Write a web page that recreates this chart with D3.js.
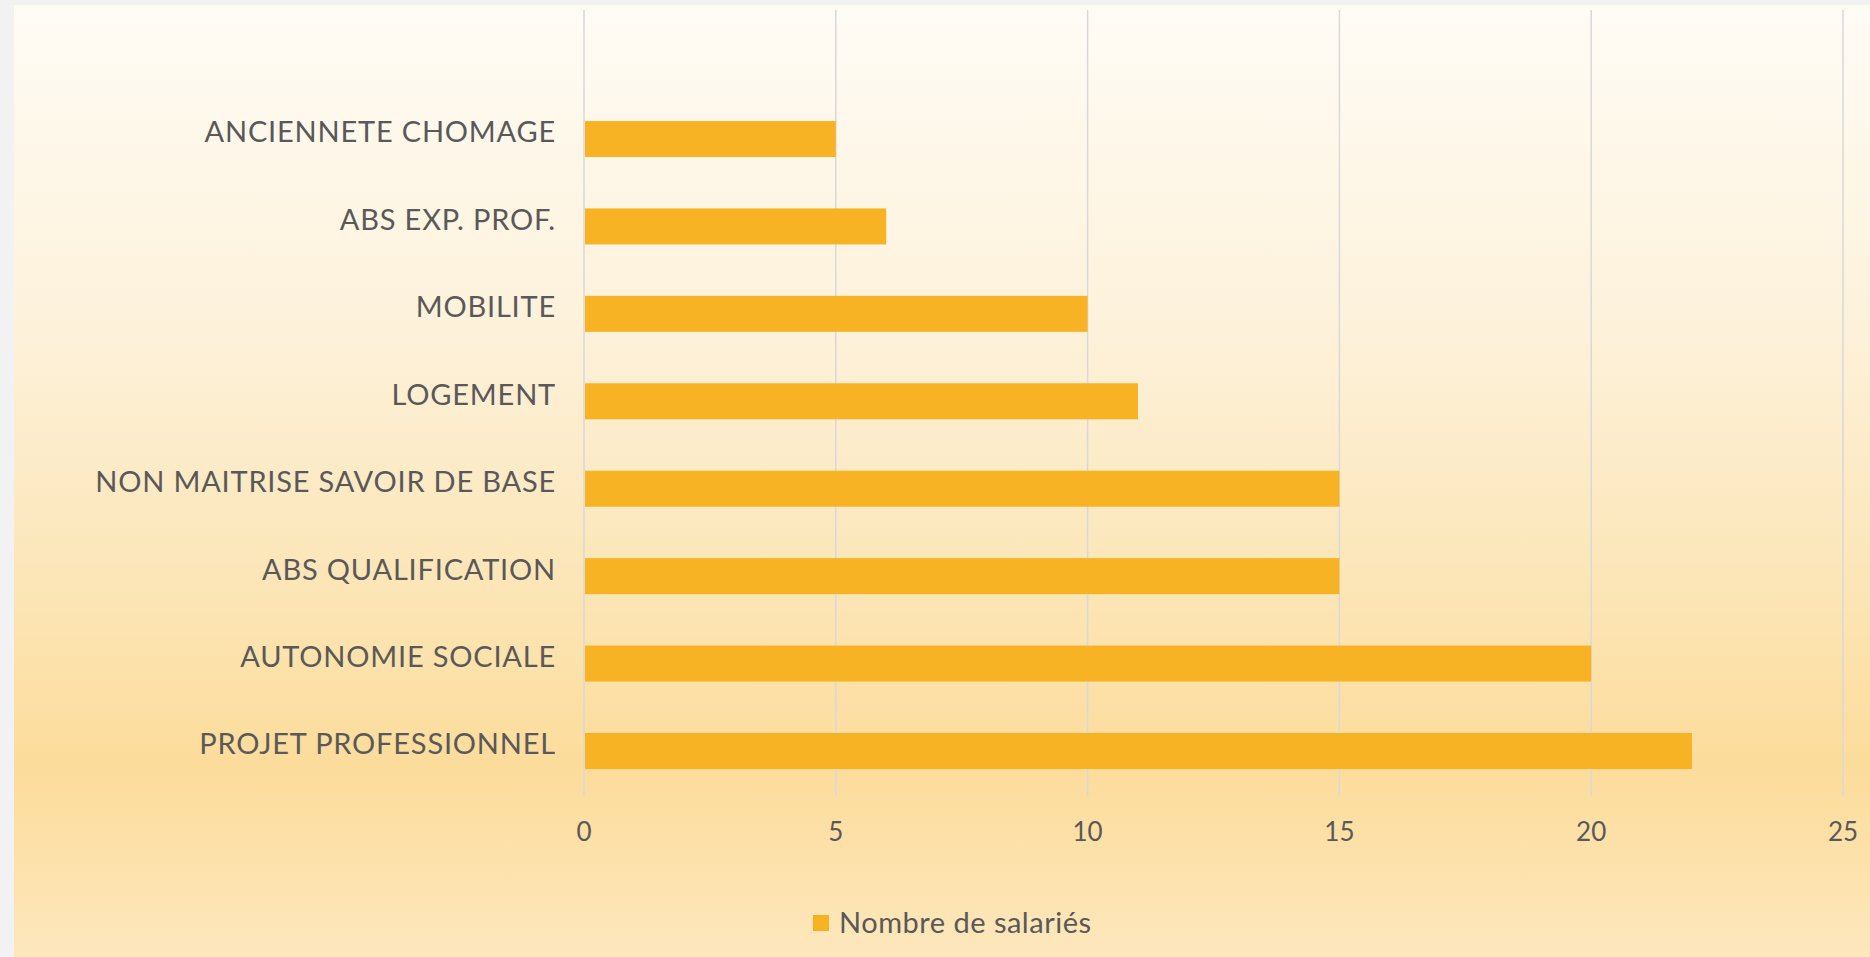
<!DOCTYPE html>
<html>
<head>
<meta charset="utf-8">
<script src="https://cdn.jsdelivr.net/npm/d3@7"></script>
<style>
  html, body { margin: 0; padding: 0; background: #f2f2f2; }
  svg { display: block; }
  text { font-family: "Gill Sans", "Lato", sans-serif; fill: #595959; }
</style>
</head>
<body>
<div id="chart"></div>
<script>
// categories top -> bottom, as in the source sheet
const categories = [
  'ANCIENNETE CHOMAGE',
  'ABS EXP. PROF.',
  'MOBILITE',
  'LOGEMENT',
  'NON MAITRISE SAVOIR DE BASE',
  'ABS QUALIFICATION',
  'AUTONOMIE SOCIALE',
  'PROJET PROFESSIONNEL'
];
const salaries = [5, 6, 10, 11, 15, 15, 20, 22];
const xTicks = [0, 5, 10, 15, 20, 25];
const seriesName = 'Nombre de salariés';

const W = 1870, H = 957;
const BAR = '#f7b324';
const GRID = '#d9d9d9';

const svg = d3.select('#chart').append('svg')
  .attr('width', W)
  .attr('height', H);

// panel background gradient
const grad = svg.append('defs').append('linearGradient')
  .attr('id', 'bg').attr('x1', 0).attr('y1', 0).attr('x2', 0).attr('y2', 1);
[[0, '#fffcf6'], [0.35, '#fdf1d9'], [0.6, '#fce6b8'], [0.8, '#fcdc9b'], [1, '#fde7bc']]
  .forEach(([o, c]) => grad.append('stop').attr('offset', o).attr('stop-color', c));

svg.append('rect')
  .attr('x', 14).attr('y', 5)
  .attr('width', W - 14).attr('height', H - 5)
  .attr('fill', 'url(#bg)');

const plot = { top: 10, bottom: 796 };

const x = d3.scaleLinear().domain([0, 25]).range([584, 1843]);
const y = d3.scaleBand().domain(categories).range([95.3, 794.7])
  .paddingInner(0.588)
  .paddingOuter(0.294);

// vertical gridlines
svg.append('g')
  .selectAll('line')
  .data(xTicks)
  .join('line')
  .attr('x1', d => x(d)).attr('x2', d => x(d))
  .attr('y1', plot.top).attr('y2', plot.bottom)
  .attr('stroke', GRID)
  .attr('stroke-width', 1.5);

// bars
svg.append('g')
  .selectAll('rect')
  .data(salaries)
  .join('rect')
  .attr('x', x(0) + 1)
  .attr('y', (d, i) => y(categories[i]))
  .attr('width', d => x(d) - x(0) - 1)
  .attr('height', y.bandwidth())
  .attr('fill', BAR);

// category labels (sit a little above the bar centre, like the original)
svg.append('g')
  .selectAll('text')
  .data(categories)
  .join('text')
  .attr('x', x(0) - 28)
  .attr('y', d => y(d) + y.bandwidth() / 2 - 7)
  .attr('dy', '0.36em')
  .attr('text-anchor', 'end')
  .attr('font-size', 29)
  .attr('letter-spacing', 0.8)
  .text(d => d);

// x tick labels
svg.append('g')
  .selectAll('text')
  .data(xTicks)
  .join('text')
  .attr('x', d => x(d))
  .attr('y', 832)
  .attr('dy', '0.36em')
  .attr('text-anchor', 'middle')
  .attr('font-size', 26)
  .text(d => d);

// legend
const lg = svg.append('g');
lg.append('rect')
  .attr('x', 813).attr('y', 915)
  .attr('width', 16).attr('height', 16)
  .attr('fill', BAR);
lg.append('text')
  .attr('x', 839).attr('y', 923)
  .attr('dy', '0.36em')
  .attr('font-size', 29)
  .attr('letter-spacing', 0.5)
  .text(seriesName);
</script>
</body>
</html>
